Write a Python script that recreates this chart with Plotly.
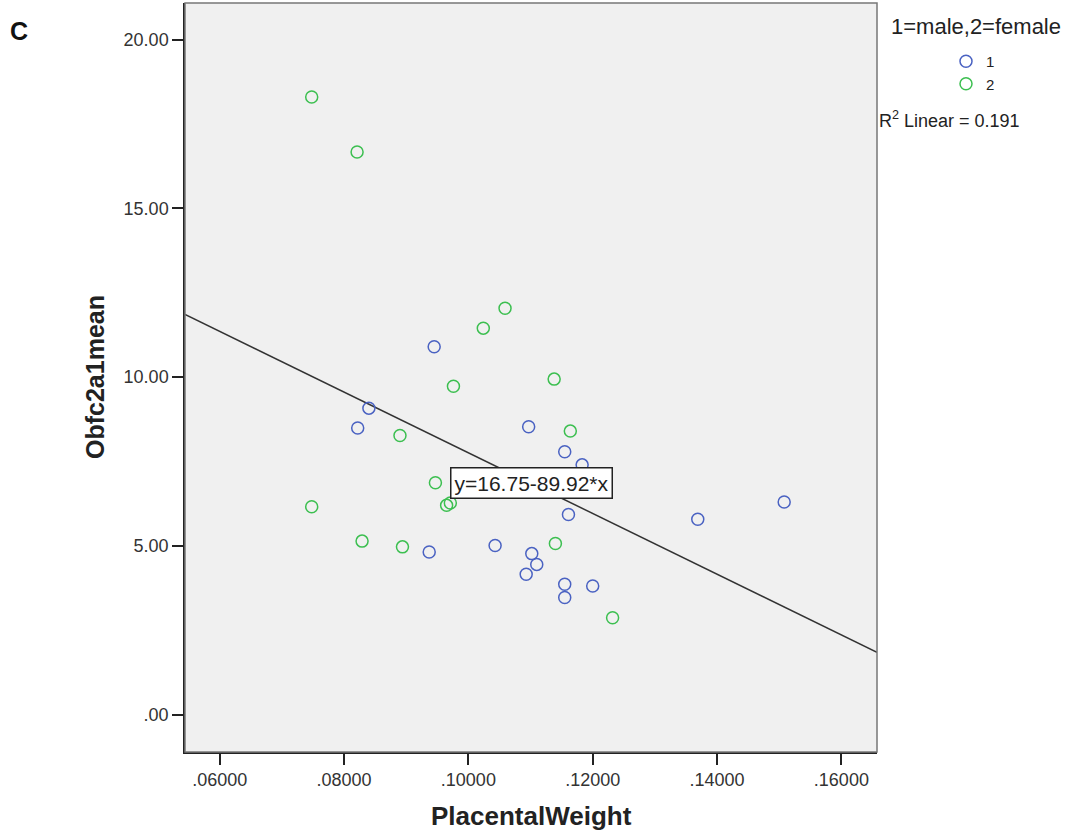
import plotly.graph_objects as go

# ---- data ----
male_x = [0.0945, 0.0840, 0.0822, 0.1097, 0.1155, 0.1183, 0.1161, 0.1369, 0.1508,
          0.0937, 0.1043, 0.1102, 0.1110, 0.1093, 0.1155, 0.1200, 0.1155]
male_y = [10.90, 9.08, 8.49, 8.53, 7.79, 7.40, 5.93, 5.79, 6.30,
          4.82, 5.01, 4.77, 4.45, 4.16, 3.86, 3.81, 3.47]
female_x = [0.0748, 0.0821, 0.1059, 0.1024, 0.1138, 0.0976, 0.0890, 0.1164,
            0.0947, 0.0965, 0.0971, 0.0748, 0.0829, 0.0894, 0.1140, 0.1232]
female_y = [18.30, 16.67, 12.04, 11.45, 9.94, 9.73, 8.27, 8.40,
            6.87, 6.20, 6.27, 6.16, 5.14, 4.97, 5.07, 2.87]

intercept = 16.75
slope = -89.92
r2 = 0.191

x_range = [0.05442, 0.16573]
y_range = [-1.108, 21.084]

x_ticks = [0.06, 0.08, 0.10, 0.12, 0.14, 0.16]
x_ticklabels = [".06000", ".08000", ".10000", ".12000", ".14000", ".16000"]
y_ticks = [0, 5, 10, 15, 20]
y_ticklabels = [".00", "5.00", "10.00", "15.00", "20.00"]

BLUE = "#4a62c2"
GREEN = "#3cbf50"
FONT = "Liberation Sans, Arial, sans-serif"

W, H = 1075, 834
L, R, T, B = 185, 198, 3, 82
pw, ph = W - L - R, H - T - B


def px(xp):
    return (xp - L) / pw


def py(yp):
    return (H - B - yp) / ph


fig = go.Figure()

line_x = x_range
line_y = [intercept + slope * v for v in line_x]
fig.add_trace(go.Scatter(x=line_x, y=line_y, mode="lines",
                         line=dict(color="#333333", width=1.5),
                         showlegend=False, hoverinfo="skip"))

fig.add_trace(go.Scatter(x=male_x, y=male_y, mode="markers", name="1",
                         marker=dict(symbol="circle-open", size=12,
                                     line=dict(color=BLUE, width=1.5), color=BLUE)))
fig.add_trace(go.Scatter(x=female_x, y=female_y, mode="markers", name="2",
                         marker=dict(symbol="circle-open", size=12,
                                     line=dict(color=GREEN, width=1.5), color=GREEN)))

annotations = [
    dict(text="y=16.75-89.92*x", x=0.1101, y=6.85, xref="x", yref="y",
         showarrow=False, font=dict(family=FONT, size=21, color="#222222"),
         bgcolor="white", bordercolor="#222222", borderwidth=1.5, borderpad=3),
    dict(text="<b>PlacentalWeight</b>", x=px(531), y=py(816),
         font=dict(family=FONT, size=26, color="#222222")),
    dict(text="<b>Obfc2a1mean</b>", x=px(95), y=py(377), textangle=-90,
         font=dict(family=FONT, size=25, color="#222222")),
    dict(text="<b>C</b>", x=px(19), y=py(31),
         font=dict(family=FONT, size=25, color="#111111")),
    dict(text="1=male,2=female", x=px(976), y=py(26),
         font=dict(family=FONT, size=22, color="#222222")),
    dict(text="R<sup>2</sup> Linear = 0.191", x=px(949), y=py(120),
         font=dict(family=FONT, size=18, color="#222222")),
]
for a in annotations[1:]:
    a.update(xref="paper", yref="paper", showarrow=False,
             xanchor="center", yanchor="middle")

fig.update_layout(
    width=W, height=H,
    margin=dict(l=L, r=R, t=T, b=B),
    paper_bgcolor="white",
    plot_bgcolor="#f0f0f0",
    font=dict(family=FONT, size=18, color="#333333"),
    showlegend=True,
    legend=dict(x=px(946), y=py(45), xanchor="left", yanchor="top",
                font=dict(family=FONT, size=15, color="#222222"),
                bgcolor="rgba(0,0,0,0)", tracegroupgap=0, itemwidth=30),
    xaxis=dict(range=x_range, tickvals=x_ticks, ticktext=x_ticklabels,
               showgrid=False, zeroline=False, showline=True, linecolor="#222222",
               linewidth=1.5, ticks="outside", ticklen=11, tickwidth=1.5,
               tickcolor="#222222", tickfont=dict(family=FONT, size=18, color="#333333")),
    yaxis=dict(range=y_range, tickvals=y_ticks, ticktext=y_ticklabels,
               showgrid=False, zeroline=False, showline=True, linecolor="#222222",
               linewidth=1.5, ticks="outside", ticklen=11, tickwidth=1.5,
               tickcolor="#222222", tickfont=dict(family=FONT, size=18, color="#333333")),
    shapes=[dict(type="rect", xref="paper", yref="paper", x0=0, y0=0, x1=1, y1=1,
                 line=dict(color="#777777", width=1.5), layer="above")],
    annotations=annotations,
)

fig.write_html("out.html")
